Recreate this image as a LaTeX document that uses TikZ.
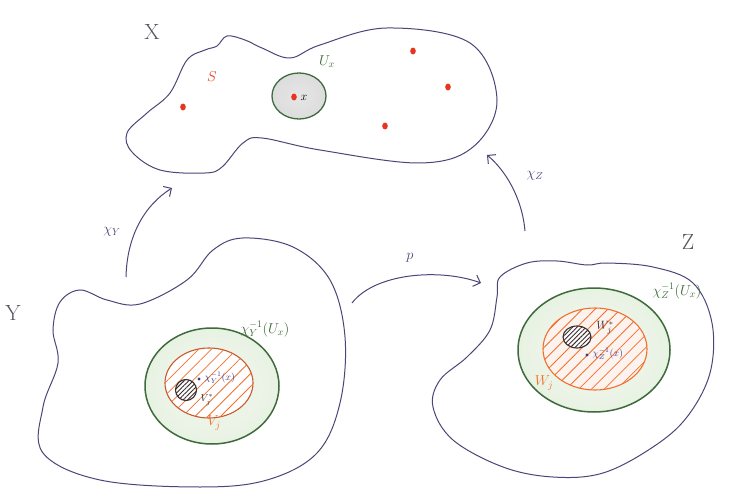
\documentclass[tikz,border=0pt]{standalone}
\usetikzlibrary{arrows.meta,patterns.meta}
\definecolor{ink}{HTML}{4B4677}
\definecolor{dgreen}{HTML}{3E6B3C}
\definecolor{orng}{HTML}{F2702E}
\definecolor{orngdark}{HTML}{C85A2C}
\definecolor{rdot}{HTML}{E8341E}
\definecolor{pencil}{HTML}{55555F}
\definecolor{hatchdark}{HTML}{3B2C2C}
\definecolor{dotblue}{HTML}{3A3A8A}
\pgfdeclareradialshading{greenring}{\pgfpoint{0bp}{0bp}}{rgb(0bp)=(0.95,0.97,0.94); rgb(25bp)=(0.91,0.95,0.89); rgb(40bp)=(0.80,0.88,0.76); rgb(50bp)=(0.70,0.82,0.64); rgb(70bp)=(0.70,0.82,0.64)}
\pgfdeclareradialshading{greyblob}{\pgfpoint{0bp}{0bp}}{rgb(0bp)=(0.90,0.90,0.90); rgb(35bp)=(0.85,0.85,0.85); rgb(50bp)=(0.80,0.80,0.80); rgb(70bp)=(0.80,0.80,0.80)}
\tikzset{
  blob/.style={draw=ink, line width=1pt},
  greendisc/.style={draw=dgreen, line width=1.5pt, shading=greenring},
  orangedisc/.style={draw=#1, line width=1.1pt, fill=white},
  hatchorange/.style={pattern={Lines[angle=45,distance=9pt,line width=0.8pt]}, pattern color=orng},
  hatchdarkdisc/.style={draw=hatchdark, line width=1.1pt, fill=white, postaction={pattern={Lines[angle=45,distance=3.2pt,line width=0.9pt]}, pattern color=hatchdark}},
  reddot/.style={fill=rdot},
  maparrow/.style={draw=ink, line width=1pt, -{Straight Barb[length=6pt,width=12pt]}},
  spacelabel/.style={text=pencil, font=\fontsize{22}{24}\selectfont},
  maplabel/.style={text=ink, font=\Large},
  greenlabel/.style={text=dgreen, font=\Large},
  orangelabel/.style={text=orng, font=\Large},
}
\begin{document}
\begin{tikzpicture}[x=1pt,y=-1pt]
\useasboundingbox (0,0) rectangle (731,497);
\fill[white] (0,0) rectangle (731,497);

% ---------- space X ----------
\draw[blob] plot[smooth cycle, tension=0.6] coordinates {
 (127,133) (147,113) (170,93) (187,60) (205,50) (217,46) (227,36) (245,40) (262,48) (290,58)
 (320,45) (387,28) (470,43) (497,100) (473,147) (420,163) (320,150) (262,138) (243,143)
 (222,167) (205,173) (160,170) (132,152)};
\node[spacelabel] (Xlab) at (152,32) {X};
\node[text=rdot, font=\Large] (Slab) at (212,77) {$S$};
\filldraw[draw=dgreen, line width=1.3pt, shading=greyblob] (299,96) ellipse [x radius=27pt, y radius=23pt];
\node[greenlabel] (Uxlab) at (327,62) {$U_x$};
\fill[reddot] (183,107) ellipse [x radius=2.8pt, y radius=3.4pt];
\fill[reddot] (294,97) ellipse [x radius=2.8pt, y radius=3.4pt];
\fill[reddot] (413,51) ellipse [x radius=2.8pt, y radius=3.4pt];
\fill[reddot] (448,87) ellipse [x radius=2.8pt, y radius=3.4pt];
\fill[reddot] (385,126) ellipse [x radius=2.8pt, y radius=3.4pt];
\node[font=\large] (xlab) at (304,98) {$x$};

% ---------- space Y ----------
\draw[blob] plot[smooth cycle, tension=0.6] coordinates {
 (60,302) (80,290) (107,300) (140,304) (187,280) (213,250) (243,238) (293,247) (330,280)
 (345,337) (340,403) (317,453) (267,480) (200,487) (100,480) (43,453) (43,407) (58,363) (53,330)};
\node[spacelabel] (Ylab) at (13,313) {Y};
\path[greendisc] (212,386) ellipse [x radius=67pt, y radius=58pt];
\filldraw[orangedisc=orngdark] (209,383) ellipse [x radius=44pt, y radius=35pt];
\path[hatchorange] (209,383) ellipse [x radius=44pt, y radius=35pt];
\path[hatchdarkdisc] (186,390) circle [radius=10.5pt];
\fill[dotblue] (199,379) circle [radius=1.7pt];
\node[text=dotblue, font=\normalsize, anchor=west] (cyx) at (201,378) {$\chi_Y^{-1}(x)$};
\node[text=hatchdark, font=\normalsize] (Vstar) at (207,400) {$V_j^*$};
\node[orangelabel] (Vj) at (214,423) {$V_j$};
\node[greenlabel] (cyU) at (265,329) {$\chi_Y^{-1}(U_x)$};

% ---------- space Z ----------
\draw[blob] plot[smooth cycle, tension=0.6] coordinates {
 (500,277) (527,263) (557,261) (587,265) (607,263) (653,267) (693,283) (712,323) (710,373)
 (687,417) (653,447) (603,473) (553,477) (503,467) (453,440) (433,407) (440,380) (467,357)
 (490,330) (497,297)};
\node[spacelabel] (Zlab) at (688,242) {Z};
\path[greendisc] (594,350) ellipse [x radius=76pt, y radius=62pt];
\filldraw[orangedisc=orng] (595,349) ellipse [x radius=52pt, y radius=41pt];
\fill[orng, opacity=0.08] (595,349) ellipse [x radius=52pt, y radius=41pt];
\path[hatchorange] (595,349) ellipse [x radius=52pt, y radius=41pt];
\path[hatchdarkdisc] (577,337) ellipse [x radius=14pt, y radius=11pt];
\node[text=hatchdark, font=\large] (Wstar) at (605,328) {$W_j^*$};
\fill[dotblue] (587,355) circle [radius=1.7pt];
\node[text=dotblue, font=\normalsize, anchor=west] (czx) at (589,354) {$\chi_Z^{-1}(x)$};
\node[orangelabel] (Wj) at (544,383) {$W_j$};
\node[greenlabel] (czU) at (677,291) {$\chi_Z^{-1}(U_x)$};

% ---------- maps ----------
\coordinate (cyS) at (126,277);
\coordinate (cyE) at (172,188);
\coordinate (pS) at (352,303);
\coordinate (pE) at (481,283);
\coordinate (czS) at (525,231);
\coordinate (czE) at (487,155);
\draw[maparrow] (cyS) .. controls (127,235) and (145,205) .. (cyE);
\node[maplabel] (chiY) at (112,232) {$\chi_Y$};
\draw[maparrow] (pS) .. controls (375,273) and (440,268) .. (pE);
\node[maplabel] (plab) at (410,258) {$p$};
\draw[maparrow] (czS) .. controls (522,197) and (505,170) .. (czE);
\node[maplabel] (chiZ) at (535,176) {$\chi_Z$};
\end{tikzpicture}
\end{document}
